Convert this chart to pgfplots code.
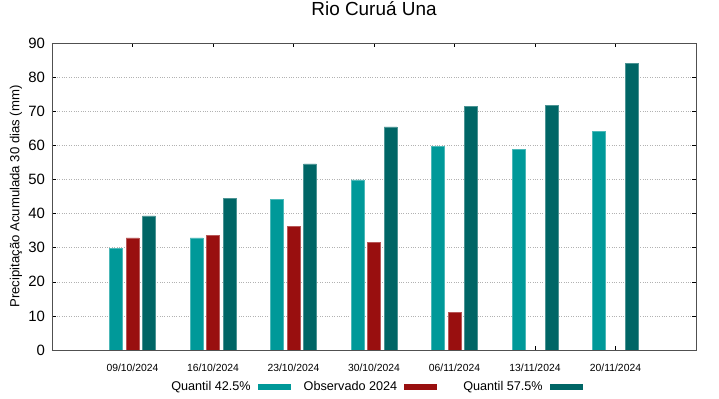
\documentclass[border=0pt]{standalone}
\usepackage{fontspec}
\setmainfont{Liberation Sans}
\usepackage{pgfplots}
\pgfplotsset{compat=1.18}
\definecolor{qlow}{RGB}{0,153,153}
\definecolor{obs}{RGB}{153,15,15}
\definecolor{qhigh}{RGB}{0,102,102}
\definecolor{axgray}{RGB}{80,80,80}
\begin{document}
\begin{tikzpicture}
\useasboundingbox (-52bp,-49bp) rectangle (667bp,350bp);
\begin{axis}[
  at={(0,0)}, anchor=south west,
  scale only axis, width=644bp, height=307bp,
  xmin=-1, xmax=7, ymin=0, ymax=90,
  xtick={0,1,2,3,4,5,6},
  xticklabels={09/10/2024,16/10/2024,23/10/2024,30/10/2024,06/11/2024,13/11/2024,20/11/2024},
  ytick={0,10,...,90},
  tick align=inside,
  major tick length=4bp,
  axis line style={axgray, line width=0.8pt},
  tick style={black, line width=0.5pt},
  ymajorgrids,
  grid style={dotted, gray!60, line width=0.5pt},
  /pgf/number format/assume math mode=true,
  yticklabel style={font=\fontsize{15}{17}\selectfont, xshift=-3.5bp},
  xticklabel style={font=\fontsize{10.4}{12}\selectfont, yshift=-10bp},
  title={Rio Curuá Una},
  title style={at={(axis description cs:0.5,1)}, anchor=center, yshift=28bp, font=\fontsize{19}{22}\selectfont},
  ylabel={Precipitação Acumulada 30 dias (mm)},
  every axis y label/.style={at={(axis description cs:0,0.5)}, xshift=-36bp, rotate=90, anchor=center, font=\fontsize{13.2}{15}\selectfont},
  legend plot pos=right,
  legend columns=3,
  legend style={at={(axis description cs:0.5,0)}, anchor=center, yshift=-37bp, xshift=2bp, draw=none, fill=none,
    font=\fontsize{12.7}{15}\selectfont, inner sep=0bp,
    /tikz/column 1/.style={column sep=5bp},
    /tikz/column 2/.style={column sep=11bp},
    /tikz/column 3/.style={column sep=5bp},
    /tikz/column 4/.style={column sep=24bp},
    /tikz/column 5/.style={column sep=5bp}},
  legend image code/.code={\fill[#1, draw=none] (0bp,-2.5bp) rectangle (33bp,2.5bp);},
]
\addplot[ybar, bar width=0.16, bar shift=-0.205, fill=qlow, draw=qlow!70!white, line width=0.3pt]
  coordinates {(0,29.8) (1,32.9) (2,44.1) (3,49.9) (4,59.8) (5,58.9) (6,64.2)};
\addlegendentry{Quantil 42.5\%}
\addplot[ybar, bar width=0.16, bar shift=0, fill=obs, draw=obs!70!white, line width=0.3pt]
  coordinates {(0,32.9) (1,33.6) (2,36.2) (3,31.6) (4,11.1)};
\addlegendentry{Observado 2024}
\addplot[ybar, bar width=0.16, bar shift=0.205, fill=qhigh, draw=qhigh!70!white, line width=0.3pt]
  coordinates {(0,39.3) (1,44.4) (2,54.6) (3,65.4) (4,71.4) (5,71.7) (6,84.1)};
\addlegendentry{Quantil 57.5\%}
\end{axis}
\end{tikzpicture}
\end{document}
